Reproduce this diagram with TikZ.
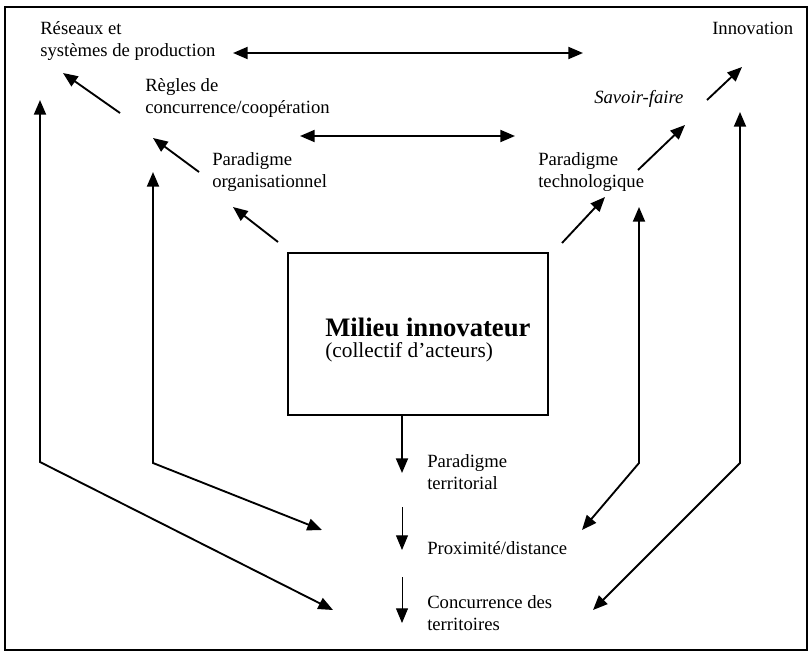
\documentclass[tikz,border=0pt]{standalone}
\usepackage{fontspec}
\setmainfont{Liberation Serif}
\usetikzlibrary{arrows.meta}

\begin{document}
\begin{tikzpicture}[x=0.75pt,y=-0.75pt,
  txt/.style={anchor=west,inner sep=0pt,align=left,font=\fontsize{14}{16}\selectfont},
  fleche/.style={line width=1.4pt,-{Triangle[length=11pt,width=9pt]}},
  dfleche/.style={line width=1.4pt,{Triangle[length=11pt,width=9pt]}-{Triangle[length=11pt,width=9pt]}},
  fine/.style={line width=0.7pt,-{Triangle[length=11pt,width=9pt]}}]
\useasboundingbox (0,0) rectangle (810,657);
\draw[line width=1pt] (5,7) rectangle (807,650);

\node[txt] (reseaux) at (40,41) {Réseaux et\\systèmes de production};
\node[txt] (innov) at (712,28) {Innovation};
\node[txt] (regles) at (145,98) {Règles de\\concurrence/coopération};
\node[txt] (savoir) at (594,99) {\textit{Savoir-faire}};
\node[txt] (parorg) at (212,172) {Paradigme\\organisationnel};
\node[txt] (partech) at (538,172) {Paradigme\\technologique};
\node[draw,line width=1.4pt,minimum width=195pt,minimum height=121.5pt] (milieu) at (418,334) {};
\node[anchor=west,inner sep=0pt,font=\fontsize{20}{24}\selectfont\bfseries] (titre) at (325,327) {Milieu innovateur};
\node[anchor=west,inner sep=0pt,font=\fontsize{16}{19}\selectfont] (acteurs) at (325,352) {(collectif d’acteurs)};
\node[txt] (parterr) at (427,472) {Paradigme\\territorial};
\node[txt] (proxi) at (427,548) {Proximité/distance};
\node[txt] (concur) at (427,613) {Concurrence des\\territoires};

% ends of the connectors
\coordinate (r1) at (233,53);  \coordinate (r2) at (583,53);
\coordinate (c1) at (300,136); \coordinate (c2) at (515,136);
\coordinate (m1) at (562,243); \coordinate (t1) at (605,197);
\coordinate (t2) at (638,170); \coordinate (s1) at (685,125);
\coordinate (s2) at (707,100); \coordinate (i1) at (742,67);
\coordinate (m2) at (278,242); \coordinate (o1) at (233,207);
\coordinate (o2) at (199,172); \coordinate (g1) at (153,138);
\coordinate (g2) at (120,113); \coordinate (e1) at (63,73);
\coordinate (m3) at (402,415); \coordinate (p1) at (402,473);
\coordinate (p2) at (402,507); \coordinate (x1) at (402,550);
\coordinate (x2) at (402,577); \coordinate (k1) at (402,623);

\draw[dfleche] (r1) -- (r2);
\draw[dfleche] (c1) -- (c2);
\draw[fleche] (m1) -- (t1);
\draw[fleche] (t2) -- (s1);
\draw[fleche] (s2) -- (i1);
\draw[fleche] (m2) -- (o1);
\draw[fleche] (o2) -- (g1);
\draw[fleche] (g2) -- (e1);
\draw[fleche] (m3) -- (p1);
\draw[fine] (p2) -- (x1);
\draw[fine] (x2) -- (k1);

% long returns
\draw[dfleche] (40,100) -- (40,462) -- (333,610);
\draw[dfleche] (153,172) -- (153,463) -- (322,530);
\draw[dfleche] (639,207) -- (639,463) -- (582,530);
\draw[dfleche] (740,112) -- (740,463) -- (593,610);
\end{tikzpicture}
\end{document}
